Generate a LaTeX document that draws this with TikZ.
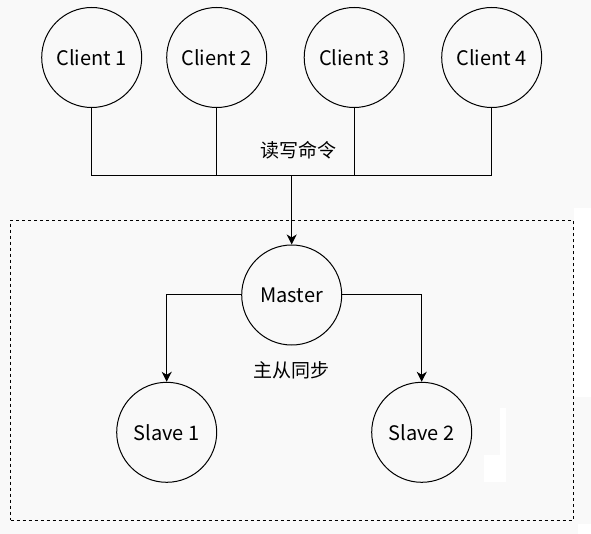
\documentclass[tikz,border=0pt]{standalone}
\usepackage{fontspec}
\setmainfont{Noto Sans CJK SC}
\usetikzlibrary{arrows.meta}
\definecolor{bgc}{RGB}{249,249,249}
\tikzset{
  ball/.style={circle, draw, line width=1pt, minimum size=100pt, inner sep=0pt, font=\fontsize{20}{24}\selectfont},
  wire/.style={line width=1pt},
  arr/.style={line width=1pt, -{Stealth[length=10pt,width=10pt,inset=3pt]}},
  lbl/.style={font=\fontsize{19}{23}\selectfont, inner sep=0pt},
  grp/.style={draw, line width=1pt, dash pattern=on 3pt off 3pt}
}
\begin{document}
\begin{tikzpicture}[x=1pt,y=-1pt]
\fill[bgc] (0,0) rectangle (591,534);
\useasboundingbox (0,0) rectangle (591,534);
% white artifacts
\fill[white] (574,208) rectangle (591,397);
\fill[white] (578,524) rectangle (591,534);
\fill[white] (500,408) rectangle (506,482);
\fill[white] (484,455) rectangle (506,482);
% group box
\node[grp, minimum width=562.5pt, minimum height=299.7pt, inner sep=0pt] (grp) at (291.75,370.15) {};
% clients
\node[ball] (c1) at (91.7,57.5) {Client 1};
\node[ball] (c2) at (216.7,57.5) {Client 2};
\node[ball] (c3) at (354.2,57.5) {Client 3};
\node[ball] (c4) at (491.7,57.5) {Client 4};
\coordinate (bus) at (291.7,176);
\node[ball] (m) at (291.7,295) {Master};
\node[ball] (s1) at (166.7,432.3) {Slave 1};
\node[ball] (s2) at (421.7,432.3) {Slave 2};
% labels
\node[lbl] (l1) at (298,150) {读写命令};
\node[lbl] (l2) at (291.7,370) {主从同步};
% connectors
\draw[wire] (c1.south) -- (c1.south |- bus);
\draw[wire] (c2.south) -- (c2.south |- bus);
\draw[wire] (c3.south) -- (c3.south |- bus);
\draw[wire] (c4.south) -- (c4.south |- bus);
\draw[wire] (c1.south |- bus) -- (c4.south |- bus);
\draw[arr, line width=1.5pt] (bus) -- (m.north);
\draw[arr] (m.west) -| (s1.north);
\draw[arr] (m.east) -| (s2.north);
\end{tikzpicture}
\end{document}
